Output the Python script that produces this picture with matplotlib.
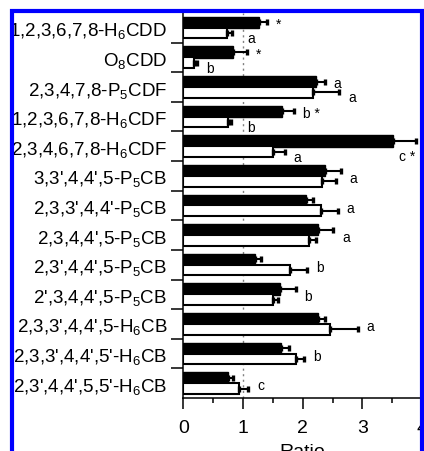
import numpy as np
import matplotlib.pyplot as plt
from matplotlib.patches import Rectangle

plt.rcParams['font.family'] = 'Liberation Sans'
plt.rcParams['mathtext.fontset'] = 'custom'
plt.rcParams['mathtext.rm'] = 'Liberation Sans'

################ Data ###############################

congeners = [r'1,2,3,6,7,8-H$\mathregular{_6}$CDD', r'O$\mathregular{_8}$CDD',
             r'2,3,4,7,8-P$\mathregular{_5}$CDF', r'1,2,3,6,7,8-H$\mathregular{_6}$CDF',
             r'2,3,4,6,7,8-H$\mathregular{_6}$CDF', r"3,3',4,4',5-P$\mathregular{_5}$CB",
             r"2,3,3',4,4'-P$\mathregular{_5}$CB", r"2,3,4,4',5-P$\mathregular{_5}$CB",
             r"2,3',4,4',5-P$\mathregular{_5}$CB", r"2',3,4,4',5-P$\mathregular{_5}$CB",
             r"2,3,3',4,4',5-H$\mathregular{_6}$CB", r"2,3,3',4,4',5'-H$\mathregular{_6}$CB",
             r"2,3',4,4',5,5'-H$\mathregular{_6}$CB"]

black_vals = [1.26, 0.83, 2.22, 1.66, 3.52, 2.37, 2.06, 2.26, 1.20, 1.62, 2.25, 1.63, 0.75]
black_err  = [0.14, 0.24, 0.15, 0.20, 0.37, 0.27, 0.11, 0.25, 0.10, 0.26, 0.12, 0.14, 0.08]
white_vals = [0.74, 0.18, 2.17, 0.75, 1.51, 2.33, 2.30, 2.11, 1.78, 1.50, 2.45, 1.89, 0.94]
white_err  = [0.07, 0.05, 0.44, 0.05, 0.19, 0.22, 0.29, 0.11, 0.30, 0.09, 0.47, 0.13, 0.15]

note_black = ['*', '*', 'a', 'b *', 'c *', '', '', '', '', '', '', '', '']
note_white = ['a', 'b', 'a', 'b', 'a', '', '', '', '', '', '', '', '']
note_pair  = ['', '', '', '', '', 'a', 'a', 'a', 'b', 'b', 'a', 'b', 'c']

################ Plot ###############################

n = len(congeners)
y = np.arange(n)
bv, be = np.array(black_vals), np.array(black_err)
wv, we = np.array(white_vals), np.array(white_err)

fig = plt.figure(figsize=(4.24, 4.52), dpi=100)
ax = fig.add_axes([0.4323, 0.1173, 0.5632, 0.8518])

ax.axvline(1, color='gray', ls=(0, (1.5, 2.5)), lw=1.0, zorder=0)
ax.barh(y - 0.18, bv, height=0.38, color='black', edgecolor='black', lw=1.0)
ax.barh(y + 0.18, wv, height=0.36, color='white', edgecolor='black', lw=1.5)
ax.errorbar(bv, y - 0.18, xerr=[np.zeros(n), be], fmt='none', ecolor='black',
            elinewidth=1.5, capsize=2.5, capthick=2.4)
ax.errorbar(wv, y + 0.18, xerr=[np.zeros(n), we], fmt='none', ecolor='black',
            elinewidth=1.5, capsize=2.5, capthick=2.4)

gap = 0.15
for i in range(n):
    bend = bv[i] + be[i]
    wend = wv[i] + we[i]
    if note_black[i]:
        if bend + gap > 3.6:
            ax.text(bend, i + 0.34, note_black[i], ha='right', va='center', fontsize=10)
        else:
            ax.text(bend + gap, i - 0.13, note_black[i], ha='left', va='center', fontsize=10)
    if note_white[i]:
        xt = wend + gap
        if 0.85 < xt < 1.07:
            xt = 1.07
        ax.text(xt, i + 0.35, note_white[i], ha='left', va='center', fontsize=10)
    if note_pair[i]:
        ax.text(max(bend, wend) + gap, i + 0.07, note_pair[i], ha='left', va='center', fontsize=10)

ax.set_xlim(0, 4)
ax.set_ylim(n - 0.5, -0.5)
ax.set_xticks([0, 1, 2, 3, 4])
ax.set_xticks(np.arange(0.5, 4, 1.0), minor=True)
ax.set_yticks(y)
ax.set_yticklabels(congeners, fontsize=13.5)
ax.set_yticks(np.arange(0.5, n - 1, 1.0), minor=True)
ax.tick_params(axis='y', which='major', length=0, pad=11.5)
ax.tick_params(axis='y', which='minor', length=8.5, width=1.1)
ax.tick_params(axis='x', which='major', length=8, width=1.1, labelsize=14, pad=7)
ax.tick_params(axis='x', which='minor', length=3.5, width=1.1)
ax.set_xlabel('Ratio', fontsize=14, labelpad=5)

for s in ['top', 'right']:
    ax.spines[s].set_visible(False)
for s in ['left', 'bottom']:
    ax.spines[s].set_linewidth(1.1)

# blue frame around the panel
fig.add_artist(Rectangle((12 / 424, -0.1), 410 / 424, 1.1 - 12 / 452,
                         transform=fig.transFigure, fill=False,
                         edgecolor='#0000ff', lw=3.0, zorder=10))

fig.savefig('out.png', dpi=100)
